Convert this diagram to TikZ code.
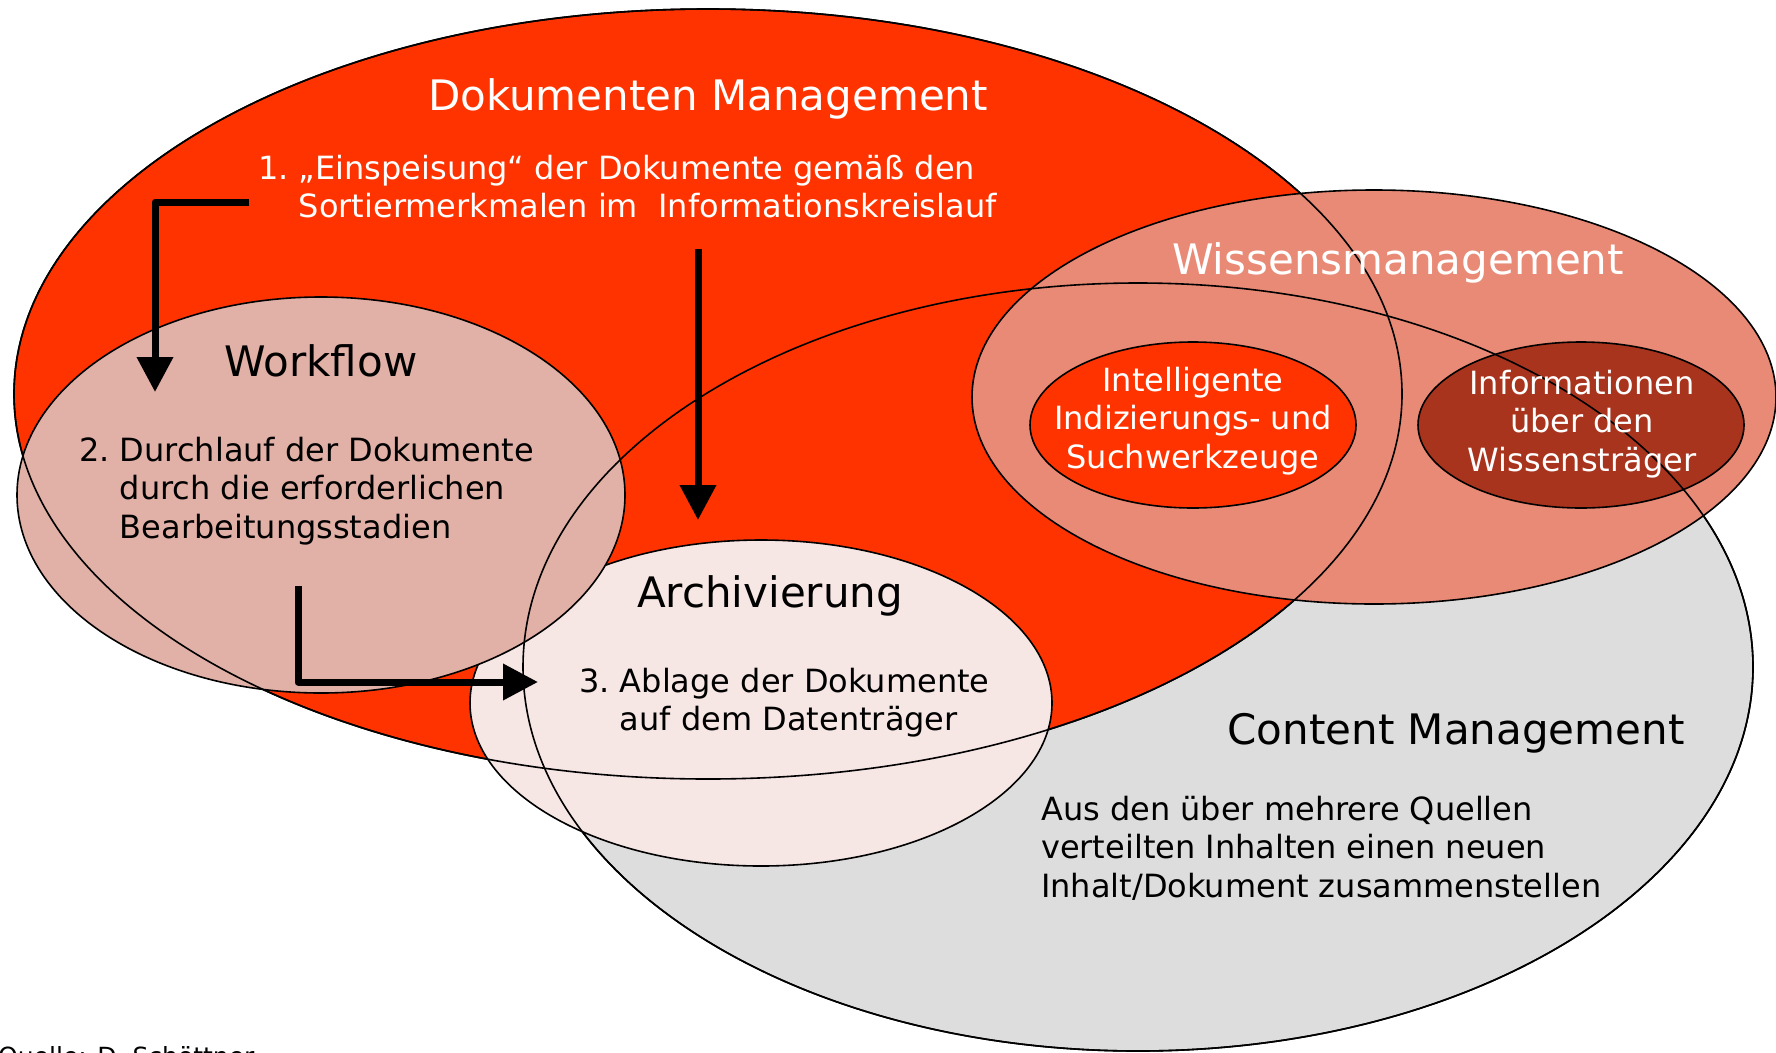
\documentclass[tikz,border=0pt]{standalone}
\usepackage{fontspec}
\setmainfont{DejaVu Sans}
\usetikzlibrary{arrows.meta}
\usetikzlibrary{positioning}
\tikzset{blob/.style = {draw, line width = 1.6pt}}
\tikzset{flow/.style = {line width = 7pt, line join = round,
                        -{Triangle[width = 35pt, length = 35pt]}}}
\tikzset{title/.style = {font = \fontsize{42}{50}\selectfont, inner sep = 0}}
\tikzset{body/.style = {font = \fontsize{32}{38.5}\selectfont, inner sep = 0, align = left}}
\definecolor{dred}{RGB}{255, 51, 0}
\definecolor{wsalmon}{RGB}{233, 138, 118}
\definecolor{wfrose}{RGB}{225, 176, 166}
\definecolor{arpink}{RGB}{246, 230, 228}
\definecolor{cmgrey}{RGB}{221, 221, 221}
\definecolor{wbrown}{RGB}{169, 52, 29}

\begin{document}
\begin{tikzpicture}[x = 1pt, y = -1pt]
      \useasboundingbox (0, 0) rectangle (1776, 1052);
      % centres of the sets
      \coordinate (cm) at (1138, 667);
      \coordinate (dm) at (708, 394);
      \coordinate (ar) at (761, 703);
      \coordinate (wf) at (321, 495);
      \coordinate (wm) at (1374, 397);
      \coordinate (iz) at (1193, 425);
      \coordinate (it) at (1581, 425);
      % the sets, back to front
      \filldraw [blob, fill = cmgrey] (cm) ellipse [x radius = 615, y radius = 384];
      \filldraw [blob, fill = dred] (dm) ellipse [x radius = 694, y radius = 385];
      \filldraw [blob, fill = arpink] (ar) ellipse [x radius = 291, y radius = 163];
      \filldraw [blob, fill = wfrose] (wf) ellipse [x radius = 304, y radius = 198];
      \filldraw [blob, fill = wsalmon] (wm) ellipse [x radius = 402, y radius = 207];
      \filldraw [blob, fill = dred] (iz) ellipse [x radius = 163, y radius = 83];
      \filldraw [blob, fill = wbrown] (it) ellipse [x radius = 163, y radius = 83];
      \draw [blob] (cm) ellipse [x radius = 615, y radius = 384];
      \draw [blob] (dm) ellipse [x radius = 694, y radius = 385];
      % arrows
      \coordinate (dm-out) at (249, 202);
      \coordinate (wf-in) at (155, 392);
      \coordinate (dm-down) at (698, 249);
      \coordinate (ar-top) at (698, 520);
      \coordinate (wf-out) at (298, 586);
      \coordinate (ar-in) at (538, 682);
      \draw [flow] (dm-out) -| (wf-in);
      \draw [flow] (dm-down) -- (ar-top);
      \draw [flow] (wf-out) |- (ar-in);
      % texts (base = last line)
      \node [title, white, anchor = base] (dm-title) at (708, 110) {Dokumenten Management};
      \node [body, white, anchor = base west] (dm-text) at (258, 217.5)
        {1.\ „Einspeisung“ der Dokumente gemäß den\\\hphantom{1.\ }Sortiermerkmalen im\ \ Informationskreislauf};
      \node [title, anchor = base] (wf-title) at (321, 376) {Workflow};
      \node [body, anchor = base west] (wf-text) at (79, 538)
        {2.\ Durchlauf der Dokumente\\\hphantom{2.\ }durch die erforderlichen\\\hphantom{2.\ }Bearbeitungsstadien};
      \node [title, anchor = base] (ar-title) at (770, 607) {Archivierung};
      \node [body, anchor = base west] (ar-text) at (579, 730.5)
        {3.\ Ablage der Dokumente\\\hphantom{3.\ }auf dem Datenträger};
      \node [title, white, anchor = base] (wm-title) at (1398, 274) {Wissensmanagement};
      \node [body, white, align = center, anchor = base] (iz-text) at (1193, 468)
        {Intelligente\\Indizierungs- und\\Suchwerkzeuge};
      \node [body, white, align = center, anchor = base] (it-text) at (1582, 471)
        {Informationen\\über den\\Wissensträger};
      \node [title, anchor = base] (cm-title) at (1456, 744) {Content Management};
      \node [body, anchor = base west] (cm-text) at (1041, 897)
        {Aus den über mehrere Quellen\\verteilten Inhalten einen neuen\\Inhalt/Dokument zusammenstellen};
      \node [font = \fontsize{25}{30}\selectfont, inner sep = 0, anchor = base west] (src) at (-2, 1065)
        {Quelle: D. Schöttner};
    \end{tikzpicture}
\end{document}
